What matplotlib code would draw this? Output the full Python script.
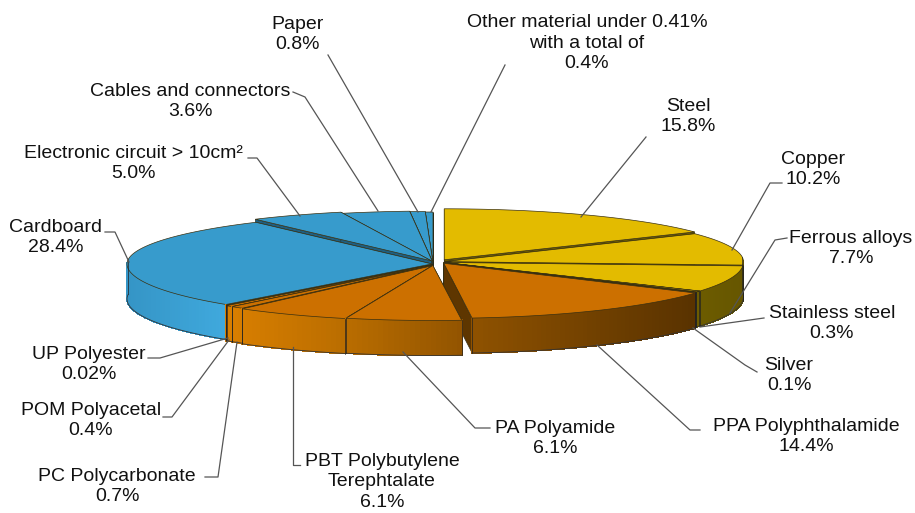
from matplotlib import pyplot as pl
from matplotlib.collections import PolyCollection
from matplotlib.colors import to_rgb
import numpy as np

names = [
         'Steel', 'Copper', 'Ferrous alloys', 'Stainless steel', 'Silver',
         'PPA Polyphthalamide', 'PA Polyamide',
         'PBT Polybutylene\nTerephtalate', 'PC Polycarbonate',
         'POM Polyacetal', 'UP Polyester', 'Cardboard',
         'Electronic circuit > 10cm²', 'Cables and connectors', 'Paper',
         'Other material under 0.41%\nwith a total of',
         ]
values = [15.8, 10.2, 7.7, 0.3, 0.1, 14.4, 6.1, 6.1, 0.7, 0.4, 0.02, 28.4,
          5.0, 3.6, 0.8, 0.4]
percent = ['15.8%', '10.2%', '7.7%', '0.3%', '0.1%', '14.4%', '6.1%', '6.1%',
           '0.7%', '0.4%', '0.02%', '28.4%', '5.0%', '3.6%', '0.8%', '0.4%']
groups = ['y', 'y', 'y', 'y', 'y', 'o', 'o', 'o', 'o', 'o', 'o', 'b', 'b', 'b',
          'b', 'b']

# Layout in pixels of the 915x513 picture, centre of the first text line
label_pos = [
             (688, 105), (813, 158), (851, 237), (832, 312), (789, 364),
             (806, 425), (555, 427), (382, 459), (117, 475), (91, 409),
             (89, 353), (56, 226), (133, 152), (190, 90), (298, 23), (587, 20),
             ]
leaders = [
           [(646, 137), (581, 217)],
           [(782, 183), (770, 183), (732, 250)],
           [(787, 238), (775, 240), (730, 313)],
           [(764, 318), (700, 327)],
           [(757, 372), (745, 365), (693, 328)],
           [(700, 430), (690, 430), (597, 345)],
           [(490, 428), (475, 428), (403, 352)],
           [(300, 465), (293, 465), (293, 347)],
           [(205, 477), (218, 477), (237, 342)],
           [(163, 417), (172, 417), (229, 340)],
           [(148, 358), (160, 358), (228, 338)],
           [(105, 232), (115, 232), (129, 262)],
           [(248, 158), (257, 158), (300, 216)],
           [(293, 92), (305, 97), (378, 211)],
           [(328, 55), (418, 212)],
           [(505, 65), (431, 212)],
           ]

rx_right = 299
rx_left = 305
ry_up = 51
ry_down = 55
depth = 35
# how far each slice is pulled out, pixels
gaps = [2.5, 1.5, 1.5, 1.0, 1.0, 1.5, 1.5, 2.0, 1.5, 1.5, 1.0, 1.0, 3.5, 2.0,
        1.5, 1.0]

top_col = {'y': '#e3bb00', 'o': '#cc7000', 'b': '#379bcc'}
face_col = {'y': '#6b5a00', 'o': '#5e3600', 'b': '#1f5f80'}
# side colour against x position
side_x = {'y': [680, 742], 'o': [230, 350, 470, 690],
          'b': [128, 220]}
side_c = {'y': ['#6f5e00', '#665600'],
          'o': ['#d97f00', '#b86c00', '#8f5200', '#5a3300'],
          'b': ['#3595c6', '#3fa8dc']}


def point(cx, cy, t, rx):
    ry = ry_up if np.cos(t) > 0 else ry_down
    return cx+rx*np.sin(t), cy-ry*np.cos(t)


def side_colour(g, x):
    rgb = np.array([to_rgb(c) for c in side_c[g]])
    return [np.interp(x, side_x[g], rgb[:, i]) for i in range(3)]


fig = pl.figure(figsize=(9.15, 5.13), dpi=100)
ax = fig.add_axes([0, 0, 1, 1])
ax.set_xlim(0, 915)
ax.set_ylim(513, 0)
ax.axis('off')

fracs = np.array(values)/np.sum(values)*2*np.pi
ends = np.cumsum(fracs)
starts = ends-fracs
mids = (starts+ends)/2

# back slices first
order = np.argsort(np.cos(mids))[::-1]

for i in order:
    g = groups[i]
    right = mids[i] < starts[6]
    cx = 443 if right else 433
    cy = 262 if right else 264
    rx = rx_right if right else rx_left
    cx = cx+gaps[i]*np.sin(mids[i])
    cy = cy-gaps[i]*np.cos(mids[i])

    t = np.linspace(starts[i], ends[i], max(int(fracs[i]*60), 2)+1)
    px, py = zip(*[point(cx, cy, a, rx) for a in t])
    px = np.array(px)
    py = np.array(py)

    # radial faces
    for k in (0, -1):
        ax.fill(
                [cx, px[k], px[k], cx],
                [cy, py[k], py[k]+depth, cy+depth],
                facecolor=face_col[g],
                edgecolor='#2a2a1a',
                linewidth=0.4,
                )

    # outer side, only where it faces the viewer
    polys = []
    cols = []
    for k in range(len(t)-1):
        if np.cos((t[k]+t[k+1])/2) > 0.02:
            continue
        polys.append([
                      (px[k], py[k]), (px[k+1], py[k+1]),
                      (px[k+1], py[k+1]+depth), (px[k], py[k]+depth),
                      ])
        cols.append(side_colour(g, (px[k]+px[k+1])/2))
    if polys:
        ax.add_collection(PolyCollection(
                                         polys,
                                         facecolors=cols,
                                         edgecolors=cols,
                                         linewidths=0.6,
                                         antialiaseds=False,
                                         ))
        front = [k for k in range(len(t)) if np.cos(t[k]) < 0.1]
        ax.plot(px[front], py[front]+depth, color='#333333', lw=0.6)
        for k in (front[0], front[-1]):
            ax.plot(
                    [px[k]]*2,
                    [py[k], py[k]+depth],
                    color='#222222',
                    lw=0.5,
                    )

    # top surface
    ax.fill(
            np.r_[cx, px],
            np.r_[cy, py],
            facecolor=top_col[g],
            edgecolor='#3a3010',
            linewidth=0.5,
            )

for line in leaders:
    xs, ys = zip(*line)
    ax.plot(xs, ys, color='#555555', lw=0.9, zorder=5)

for name, pct, (x, y) in zip(names, percent, label_pos):
    lines = name.count('\n')+2
    ax.text(
            x,
            y+(lines-1)*11.5,
            name+'\n'+pct,
            ha='center',
            va='center',
            fontsize=14,
            family='Liberation Sans',
            color='#111111',
            linespacing=1.3,
            zorder=6,
            )

fig.savefig('out.png', dpi=100, facecolor='white')
